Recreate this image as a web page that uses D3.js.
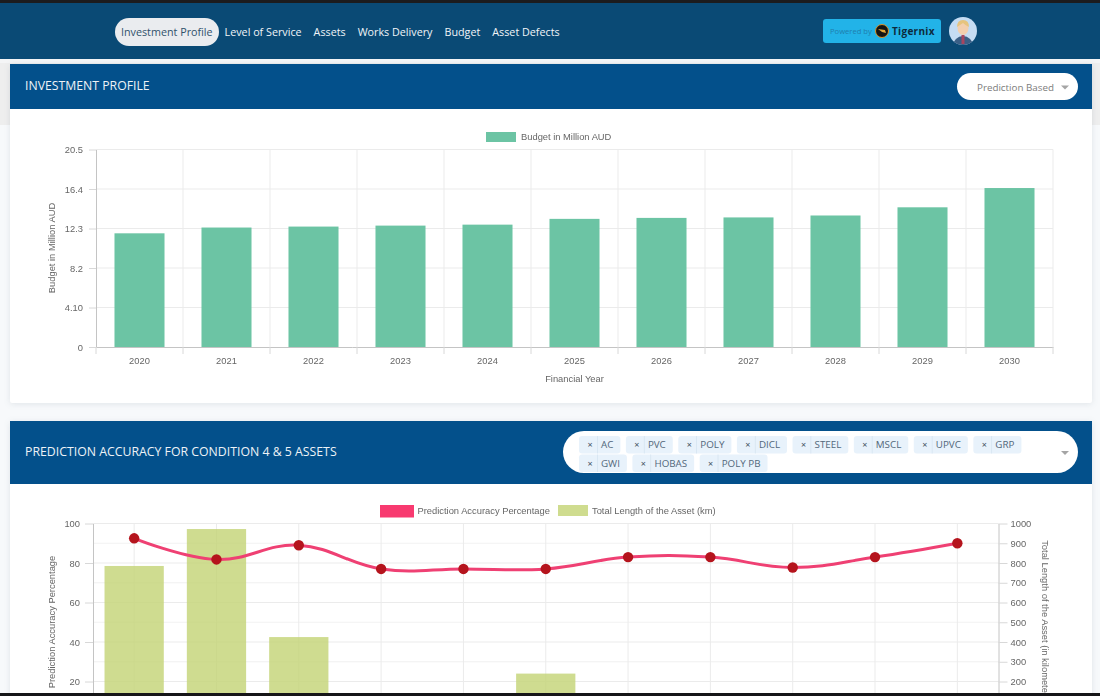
<!DOCTYPE html>
<html>
<head>
<meta charset="utf-8">
<script src="https://cdnjs.cloudflare.com/ajax/libs/d3/7.8.5/d3.min.js"></script>
<style>
    html, body { margin: 0; padding: 0; background: #f7f9fb; }
    body { width: 1100px; height: 696px; overflow: hidden; position: relative; }
    svg { position: absolute; left: 0; top: 0; filter: blur(0.35px); }
    .ui { font-family: "Open Sans", sans-serif; }
    .chart text { font-family: "Liberation Sans", Arial, sans-serif; fill: #666; font-size: 9.35px; }
    .axis path { stroke: #c4c4c4; }
    .axis line { stroke: #d8d8d8; }
    .grid line { stroke: #ebebeb; }
</style>
</head>
<body>
<svg id="page" width="1100" height="696"></svg>
<script>
    // nav + filter labels
    var navItems = ["Investment Profile", "Level of Service", "Assets", "Works Delivery", "Budget", "Asset Defects"];
    var assetTypes = [["AC", "PVC", "POLY", "DICL", "STEEL", "MSCL", "UPVC", "GRP"], ["GWI", "HOBAS", "POLY PB"]];

    // first chart
    var years = ["2020", "2021", "2022", "2023", "2024", "2025", "2026", "2027", "2028", "2029", "2030"];
    var budget = [11.8, 12.4, 12.5, 12.6, 12.7, 13.3, 13.4, 13.45, 13.65, 14.5, 16.5];
    var budgetTicks = [0, 4.1, 8.2, 12.3, 16.4, 20.5];
    var budgetTickLabels = ["0", "4.10", "8.2", "12.3", "16.4", "20.5"];

    // second chart (bars under 140 km are cut off by the bottom of the screenshot, estimated)
    var assetLabels = ["AC", "PVC", "POLY", "DICL", "STEEL", "MSCL", "UPVC", "GRP", "GWI", "HOBAS", "POLY PB"];
    var accuracy = [92.5, 81.8, 89, 77, 77, 77, 83, 83, 77.7, 83, 90];
    var lengthKm = [785, 972, 425, 60, 50, 240, 40, 30, 20, 15, 10];
    var accuracyTicks = [20, 40, 60, 80, 100];
    var lengthTicks = [200, 300, 400, 500, 600, 700, 800, 900, 1000];

    var svg = d3.select("#page");

    function box(x, y, w, h, fill, r) {
        return svg.append("rect").attr("x", x).attr("y", y).attr("width", w).attr("height", h)
            .attr("rx", r || 0).attr("fill", fill);
    }

    function uiText(x, y, str, size, color, anchor) {
        return svg.append("text").attr("class", "ui").attr("x", x).attr("y", y)
            .attr("dominant-baseline", "central")
            .attr("text-anchor", anchor || "start")
            .attr("font-size", size).attr("fill", color).text(str);
    }

    function caret(cx, cy) {
        svg.append("path").attr("d", d3.line()([[cx - 4, cy - 2], [cx + 4, cy - 2], [cx, cy + 2]]))
            .attr("fill", "#a5a5a5");
    }

    /**
     * page chrome
     */
    box(0, 59, 1100, 66, "#eeeeee");
    box(0, 0, 1100, 59, "#0a4a75");
    box(0, 0, 1100, 3, "#1c1c1e");
    box(0, 59, 1100, 4, "#f4f5f6");

    // nav, each item starts where the last one ended
    box(115, 18, 104, 28, "#eaecef", 14);
    var navX = 121;
    navItems.forEach(function (d, i) {
        var t = uiText(navX, 31.5, d, 10.75, i == 0 ? "#31516b" : "#f1f5f8");
        navX += t.node().getComputedTextLength() + 12;
    });

    // powered by badge
    box(823, 19, 118, 24, "#22b3e8", 3);
    uiText(830, 31, "Powered by", 7.6, "#1f7fae");
    svg.append("circle").attr("cx", 882).attr("cy", 31).attr("r", 6.5).attr("fill", "#141414")
        .attr("stroke", "#d9942a").attr("stroke-width", 1);
    svg.append("path").attr("d", "M878 29 L885 30 L886 33 L882 32 Z").attr("fill", "#e2a83c");
    uiText(892, 30.5, "Tigernix", 10, "#0d2a3c").attr("font-weight", 700).attr("letter-spacing", 0.3);

    // avatar
    svg.append("clipPath").attr("id", "avatarClip").append("circle")
        .attr("cx", 963).attr("cy", 31).attr("r", 14);
    var avatar = svg.append("g").attr("clip-path", "url(#avatarClip)");
    avatar.append("rect").attr("x", 949).attr("y", 17).attr("width", 28).attr("height", 28).attr("fill", "#c5dcf3");
    avatar.append("ellipse").attr("cx", 963).attr("cy", 46).attr("rx", 10).attr("ry", 10).attr("fill", "#3b5f86");
    avatar.append("rect").attr("x", 961.5).attr("y", 35).attr("width", 3).attr("height", 9).attr("fill", "#a8455f");
    avatar.append("ellipse").attr("cx", 963).attr("cy", 28).attr("rx", 5.5).attr("ry", 7).attr("fill", "#f3cfae");
    avatar.append("path").attr("d", "M957 27 Q957 20 963 20 Q969 20 969 27 Q965 25 963 23 Q960 25 957 27 Z").attr("fill", "#e6c47e");

    /**
     * cards
     */
    box(10, 64, 1082, 339, "#ffffff", 2).style("filter", "drop-shadow(0 1px 3px rgba(60,80,100,0.12))");
    box(10, 64, 1082, 45, "#03508b");
    uiText(25, 85, "INVESTMENT PROFILE", 12.25, "#eef3f7");
    box(957, 73, 121, 27, "#ffffff", 13.5);
    uiText(977, 87, "Prediction Based", 9.8, "#7c7c7c");
    caret(1065, 87.5);

    box(10, 421, 1082, 290, "#ffffff", 2).style("filter", "drop-shadow(0 1px 3px rgba(60,80,100,0.12))");
    box(10, 421, 1082, 63, "#03508b");
    uiText(25, 451, "PREDICTION ACCURACY FOR CONDITION 4 & 5 ASSETS", 12.3, "#eef3f7");
    box(563, 431, 515, 42, "#ffffff", 21);
    caret(1065, 453);

    // asset chips, laid out row by row
    assetTypes.forEach(function (row, r) {
        var chipX = 579;
        var chipY = 436 + r * 18.5;
        row.forEach(function (d) {
            var chip = box(chipX, chipY, 20, 17.5, "#e8f2fb", 3);
            uiText(chipX + 11, chipY + 8.5, "\u00d7", 9, "#40505e", "middle");
            svg.append("rect").attr("x", chipX + 18).attr("y", chipY).attr("width", 0.7).attr("height", 17.5).attr("fill", "#d3e2ef");
            var label = uiText(chipX + 22, chipY + 8.5, d, 9.8, "#52677a");
            var w = 22 + label.node().getComputedTextLength() + 7;
            chip.attr("width", w);
            chipX += w + 5.5;
        });
    });

    /**
     * budget chart
     */
    var top1 = svg.append("g").attr("class", "chart");
    var x1 = d3.scaleBand().domain(years).range([96, 1053]).paddingInner(0.425).paddingOuter(0.2125);
    var y1 = d3.scaleLinear().domain([0, 20.5]).range([347, 149.5]);

    top1.append("g").attr("class", "grid").selectAll("line").data(budgetTicks.slice(1)).join("line")
        .attr("x1", 96).attr("x2", 1053).attr("y1", y1).attr("y2", y1);
    top1.append("g").attr("class", "grid").selectAll("line").data(years.slice(1).concat("end")).join("line")
        .attr("x1", function (d, i) { return 96 + (i + 1) * x1.step(); })
        .attr("x2", function (d, i) { return 96 + (i + 1) * x1.step(); })
        .attr("y1", 149.5).attr("y2", 347);

    top1.selectAll(".bar").data(budget).join("rect").attr("class", "bar")
        .attr("x", function (d, i) { return x1(years[i]); })
        .attr("y", function (d) { return y1(d); })
        .attr("width", x1.bandwidth())
        .attr("height", function (d) { return y1(0) - y1(d); })
        .attr("fill", "#6cc4a4");

    var left1 = top1.append("g").attr("class", "axis").attr("transform", "translate(96,0)")
        .call(d3.axisLeft(y1).tickValues(budgetTicks).tickSize(7).tickPadding(6).tickSizeOuter(0)
            .tickFormat(function (d, i) { return budgetTickLabels[i]; }));
    left1.selectAll(".tick").filter(function (d) { return d > 0; }).selectAll("line").attr("stroke", "#ebebeb");

    var bottom1 = top1.append("g").attr("class", "axis").attr("transform", "translate(0,347)")
        .call(d3.axisBottom(x1).tickSize(0).tickSizeOuter(0));
    bottom1.selectAll("text").attr("dy", 13.5);
    bottom1.selectAll(".sep").data(years.concat("end")).join("line").attr("class", "sep")
        .attr("x1", function (d, i) { return 96 + i * x1.step(); })
        .attr("x2", function (d, i) { return 96 + i * x1.step(); })
        .attr("y1", 0).attr("y2", 7);

    top1.append("text").attr("x", 574.5).attr("y", 382).attr("text-anchor", "middle").text("Financial Year");
    top1.append("text").attr("transform", "translate(55,248) rotate(-90)").attr("text-anchor", "middle").text("Budget in Million AUD");
    box(486, 132, 30, 10, "#6cc4a4");
    top1.append("text").attr("x", 521).attr("y", 140).text("Budget in Million AUD");

    /**
     * accuracy chart, runs off the bottom of the screenshot
     */
    var top2 = svg.append("g").attr("class", "chart");
    var x2 = d3.scaleBand().domain(assetLabels).range([93, 998.5]).paddingInner(0.28).paddingOuter(0.14);
    var yLeft = d3.scaleLinear().domain([0, 100]).range([721, 523.5]);
    var yRight = d3.scaleLinear().domain([0, 1000]).range([721, 523.5]);
    var centre = function (d) { return x2(d) + x2.bandwidth() / 2; };

    top2.append("g").attr("class", "grid").selectAll("line").data(lengthTicks).join("line")
        .attr("x1", 93).attr("x2", 998.5).attr("y1", yRight).attr("y2", yRight)
        .attr("stroke-opacity", function (d) { return d % 200 == 0 ? 1 : 0.7; });
    top2.append("g").attr("class", "grid").selectAll("line").data(assetLabels).join("line")
        .attr("x1", centre).attr("x2", centre).attr("y1", 523.5).attr("y2", 721);

    top2.selectAll(".bar").data(lengthKm).join("rect").attr("class", "bar")
        .attr("x", function (d, i) { return x2(assetLabels[i]); })
        .attr("y", function (d) { return yRight(d); })
        .attr("width", x2.bandwidth())
        .attr("height", function (d) { return yRight(0) - yRight(d); })
        .attr("fill", "#c4d477").attr("fill-opacity", 0.82);

    var line = d3.line()
        .x(function (d, i) { return centre(assetLabels[i]); })
        .y(function (d) { return yLeft(d); })
        .curve(d3.curveCardinal.tension(-0.2));
    top2.append("path").datum(accuracy).attr("d", line)
        .attr("fill", "none").attr("stroke", "#ef4073").attr("stroke-width", 3);
    top2.selectAll(".pt").data(accuracy).join("circle").attr("class", "pt")
        .attr("cx", function (d, i) { return centre(assetLabels[i]); })
        .attr("cy", function (d) { return yLeft(d); })
        .attr("r", 5.2).attr("fill", "#b5141d");

    var left2 = top2.append("g").attr("class", "axis").attr("transform", "translate(93,0)")
        .call(d3.axisLeft(yLeft).tickValues(accuracyTicks).tickSize(8).tickPadding(5).tickSizeOuter(0));
    left2.select("path").attr("stroke", "#e4e4e4");
    left2.selectAll("line").attr("stroke", "#ebebeb");
    var right2 = top2.append("g").attr("class", "axis").attr("transform", "translate(998.5,0)")
        .call(d3.axisRight(yRight).tickValues(lengthTicks).tickSize(9).tickPadding(3).tickSizeOuter(0)
            .tickFormat(d3.format("d")));
    right2.select("path").attr("stroke", "#ebebeb");
    right2.selectAll("line").attr("stroke", "#ebebeb");

    top2.append("text").attr("transform", "translate(55,622) rotate(-90)").attr("text-anchor", "middle").text("Prediction Accuracy Percentage");
    top2.append("text").attr("transform", "translate(1042,622) rotate(90)").attr("text-anchor", "middle").text("Total Length of the Asset (in kilometers)");

    box(380, 505, 34, 12.5, "#f83a70");
    top2.append("text").attr("x", 417.5).attr("y", 514).text("Prediction Accuracy Percentage");
    box(558, 505, 30, 11, "#cfdc8f");
    top2.append("text").attr("x", 592).attr("y", 514).text("Total Length of the Asset (km)");

    // dark strip at the bottom of the screenshot
    box(0, 693, 1100, 3, "#161618");
</script>
</body>
</html>
